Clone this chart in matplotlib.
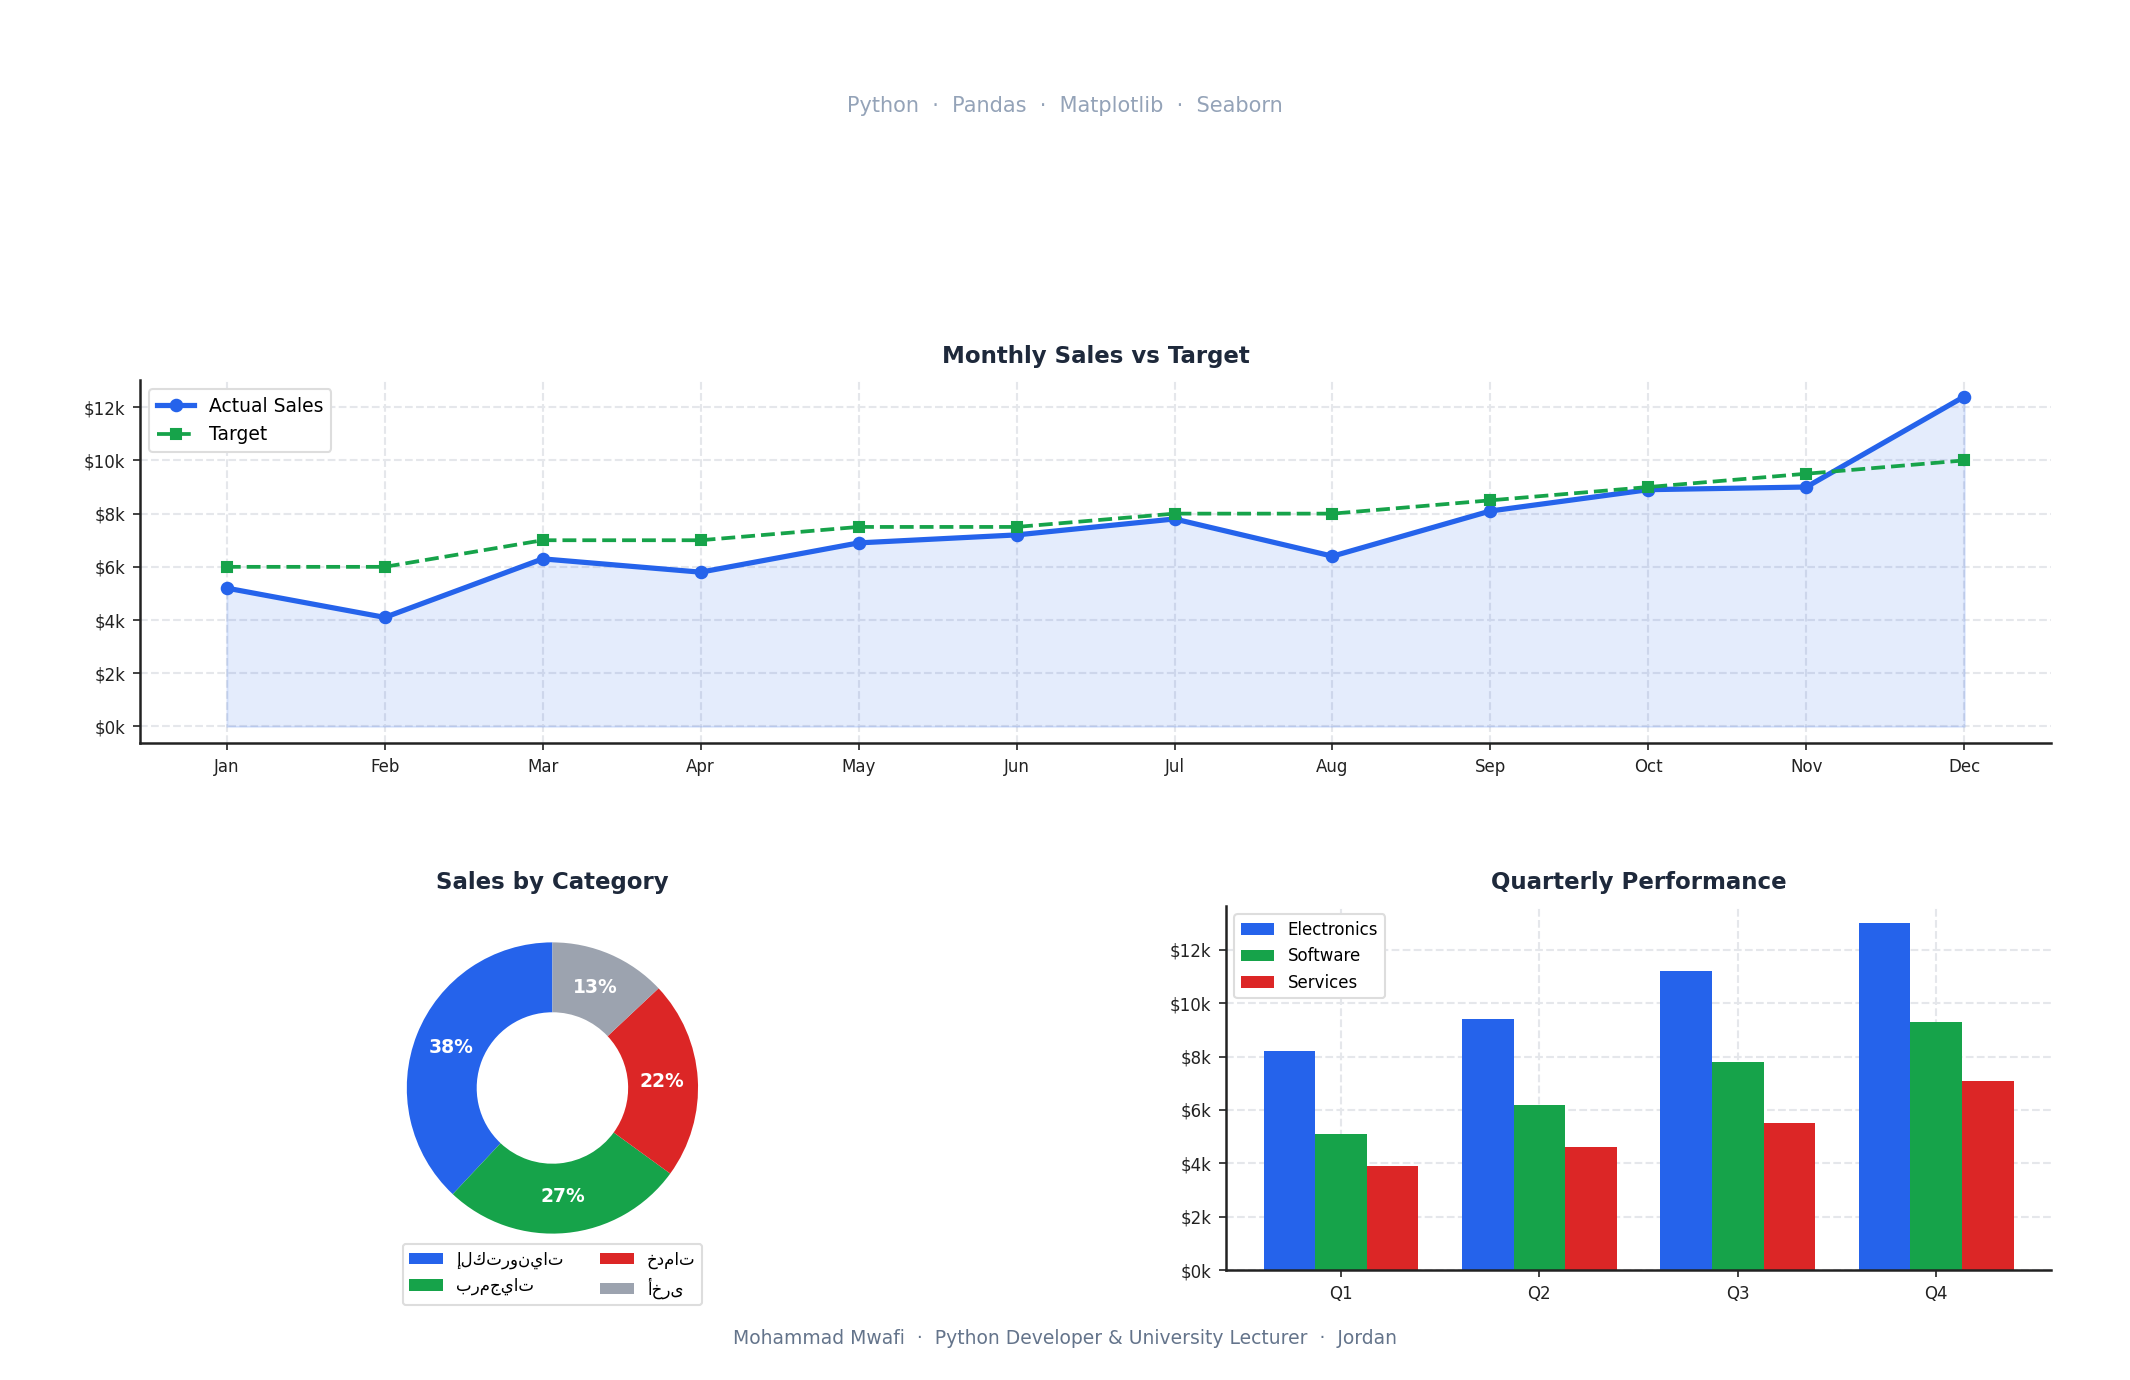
import matplotlib
matplotlib.use("Agg")
import matplotlib.pyplot as plt
import numpy as np
from matplotlib.ticker import FuncFormatter, MultipleLocator

## Sales dashboard: monthly line, category donut, quarterly bars

months = ['Jan', 'Feb', 'Mar', 'Apr', 'May', 'Jun',
          'Jul', 'Aug', 'Sep', 'Oct', 'Nov', 'Dec']
actual_sales = [5200, 4100, 6300, 5800, 6900, 7200, 7800, 6400, 8100, 8900, 9000, 12400]
target_sales = [6000, 6000, 7000, 7000, 7500, 7500, 8000, 8000, 8500, 9000, 9500, 10000]

categories = ['إلكترونيات', 'برمجيات', 'خدمات', 'أخرى']
category_share = [38, 27, 22, 13]

quarters = ['Q1', 'Q2', 'Q3', 'Q4']
electronics = [8200, 9400, 11200, 13000]
software = [5100, 6200, 7800, 9300]
services = [3900, 4600, 5500, 7100]

BLUE = '#2563eb'
GREEN = '#16a34a'
RED = '#dc2626'
GRAY = '#9ca3af'
TITLE_C = '#1e293b'
GRID_C = '#e5e7eb'

plt.rcParams['font.family'] = ['DejaVu Sans']

def money(v, pos):
    return '$%dk' % int(round(v / 1000))

def style_axes(ax):
    ax.spines['top'].set_visible(False)
    ax.spines['right'].set_visible(False)
    for s in ['left', 'bottom']:
        ax.spines[s].set_color('#222222')
        ax.spines[s].set_linewidth(1.2)
    ax.grid(True, linestyle='--', color=GRID_C, linewidth=1.0)
    ax.set_axisbelow(True)
    ax.tick_params(labelsize=8, colors='#222222')
    ax.yaxis.set_major_formatter(FuncFormatter(money))
    ax.yaxis.set_major_locator(MultipleLocator(2000))

fig = plt.figure(figsize=(14.2, 9.2), dpi=150)

fig.text(0.5, 0.923, 'Python  ·  Pandas  ·  Matplotlib  ·  Seaborn',
         ha='center', va='center', fontsize=10, color='#94a3b8')
fig.text(0.5, 0.0304,
         'Mohammad Mwafi  ·  Python Developer & University Lecturer  ·  Jordan',
         ha='center', va='center', fontsize=9, color='#64748b')

# monthly line chart
ax1 = fig.add_axes([0.0657, 0.4616, 0.8973, 0.263])
x = np.arange(len(months))
ax1.fill_between(x, 0, actual_sales, color=BLUE, alpha=0.12)
ax1.plot(x, actual_sales, color=BLUE, lw=2.5, marker='o', ms=5.5, label='Actual Sales')
ax1.plot(x, target_sales, color=GREEN, lw=1.8, ls='--', marker='s', ms=4.5, label='Target')
ax1.set_xticks(x)
ax1.set_xticklabels(months)
style_axes(ax1)
ax1.set_title('Monthly Sales vs Target', fontsize=11, fontweight='bold', color=TITLE_C, pad=8)
ax1.legend(loc='upper left', fontsize=9, framealpha=1, edgecolor='#dddddd')

# donut
ax2 = fig.add_axes([0.0657, 0.0797, 0.3873, 0.2638])
wedges, texts, autotexts = ax2.pie(category_share, colors=[BLUE, GREEN, RED, GRAY],
                                   startangle=90, counterclock=True,
                                   autopct='%1.0f%%', pctdistance=0.75,
                                   wedgeprops=dict(width=0.48))
for t in autotexts:
    t.set_color('white')
    t.set_fontsize(9)
    t.set_fontweight('bold')
ax2.set_title('Sales by Category', fontsize=11, fontweight='bold', color=TITLE_C, pad=8)
ax2.legend(wedges, categories, loc='upper center', bbox_to_anchor=(0.5, 0.095),
           ncol=2, fontsize=8, framealpha=1, edgecolor='#dddddd',
           columnspacing=2.2)

# quarterly bars
ax3 = fig.add_axes([0.5756, 0.0797, 0.3874, 0.2638])
qx = np.arange(len(quarters))
w = 0.26
ax3.bar(qx - w, electronics, w, color=BLUE, label='Electronics')
ax3.bar(qx, software, w, color=GREEN, label='Software')
ax3.bar(qx + w, services, w, color=RED, label='Services')
ax3.set_xticks(qx)
ax3.set_xticklabels(quarters)
style_axes(ax3)
ax3.set_title('Quarterly Performance', fontsize=11, fontweight='bold', color=TITLE_C, pad=8)
ax3.legend(loc='upper left', fontsize=8, framealpha=1, edgecolor='#dddddd')

fig.savefig('out.png', dpi=150, facecolor='white')
